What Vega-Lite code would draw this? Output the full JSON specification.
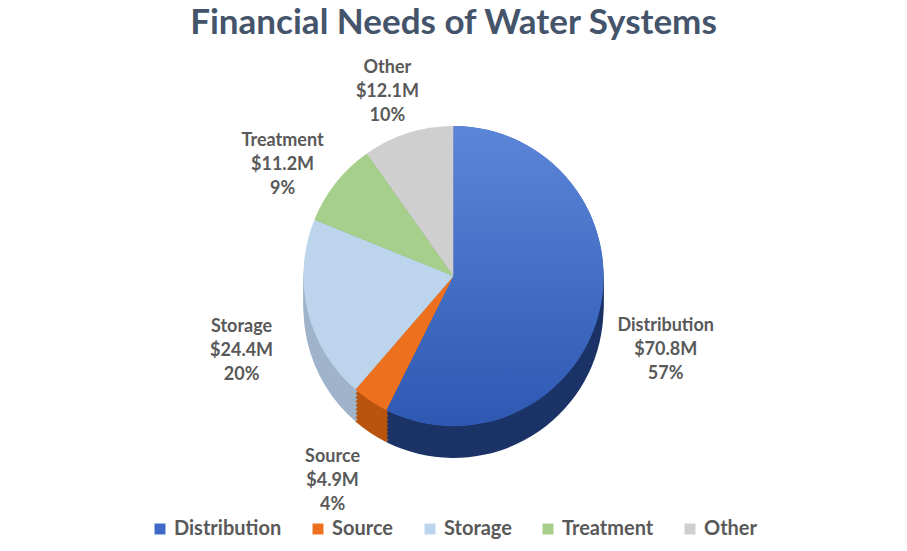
{
  "$schema": "https://vega.github.io/schema/vega-lite/v6.json",
  "width": 907,
  "height": 551,
  "autosize": {"type": "fit", "contains": "padding"},
  "background": "#ffffff",
  "padding": {"left": 5, "right": 5, "top": 6, "bottom": 12},
  "title": {
    "text": "Financial Needs of Water Systems",
    "font": "Lato",
    "fontSize": 35,
    "fontWeight": "bold",
    "color": "#44546a",
    "anchor": "middle",
    "offset": 4
  },
  "datasets": {
    "needs": [
      {"idx": 1, "category": "Distribution", "amount": 70.8, "label": "Distribution\n$70.8M\n57%"},
      {"idx": 2, "category": "Source", "amount": 4.9, "label": "Source\n$4.9M\n4%"},
      {"idx": 3, "category": "Storage", "amount": 24.4, "label": "Storage\n$24.4M\n20%"},
      {"idx": 4, "category": "Treatment", "amount": 11.2, "label": "Treatment\n$11.2M\n9%"},
      {"idx": 5, "category": "Other", "amount": 12.1, "label": "Other\n$12.1M\n10%"}
    ]
  },
  "data": {"name": "needs"},
  "encoding": {
    "theta": {"field": "amount", "type": "quantitative", "stack": true},
    "order": {"field": "idx", "type": "quantitative"}
  },
  "layer": [
    {"mark": {"type": "arc", "outerRadius": 150, "yOffset": 32},
     "encoding": {"color": {"field": "category", "type": "nominal", "legend": null,
       "scale": {"domain": ["Distribution", "Source", "Storage", "Treatment", "Other"], "range": ["#1b3366", "#b9540f", "#9fb4ca", "#86ab6e", "#a9a9a9"]}}}},
    {"mark": {"type": "arc", "outerRadius": 150, "yOffset": 28},
     "encoding": {"color": {"field": "category", "type": "nominal", "legend": null,
       "scale": {"domain": ["Distribution", "Source", "Storage", "Treatment", "Other"], "range": ["#1b3366", "#b9540f", "#9fb4ca", "#86ab6e", "#a9a9a9"]}}}},
    {"mark": {"type": "arc", "outerRadius": 150, "yOffset": 24},
     "encoding": {"color": {"field": "category", "type": "nominal", "legend": null,
       "scale": {"domain": ["Distribution", "Source", "Storage", "Treatment", "Other"], "range": ["#1b3366", "#b9540f", "#9fb4ca", "#86ab6e", "#a9a9a9"]}}}},
    {"mark": {"type": "arc", "outerRadius": 150, "yOffset": 20},
     "encoding": {"color": {"field": "category", "type": "nominal", "legend": null,
       "scale": {"domain": ["Distribution", "Source", "Storage", "Treatment", "Other"], "range": ["#1b3366", "#b9540f", "#9fb4ca", "#86ab6e", "#a9a9a9"]}}}},
    {"mark": {"type": "arc", "outerRadius": 150, "yOffset": 16},
     "encoding": {"color": {"field": "category", "type": "nominal", "legend": null,
       "scale": {"domain": ["Distribution", "Source", "Storage", "Treatment", "Other"], "range": ["#1b3366", "#b9540f", "#9fb4ca", "#86ab6e", "#a9a9a9"]}}}},
    {"mark": {"type": "arc", "outerRadius": 150, "yOffset": 12},
     "encoding": {"color": {"field": "category", "type": "nominal", "legend": null,
       "scale": {"domain": ["Distribution", "Source", "Storage", "Treatment", "Other"], "range": ["#1b3366", "#b9540f", "#9fb4ca", "#86ab6e", "#a9a9a9"]}}}},
    {"mark": {"type": "arc", "outerRadius": 150, "yOffset": 8},
     "encoding": {"color": {"field": "category", "type": "nominal", "legend": null,
       "scale": {"domain": ["Distribution", "Source", "Storage", "Treatment", "Other"], "range": ["#1b3366", "#b9540f", "#9fb4ca", "#86ab6e", "#a9a9a9"]}}}},
    {"mark": {"type": "arc", "outerRadius": 150, "yOffset": 4},
     "encoding": {"color": {"field": "category", "type": "nominal", "legend": null,
       "scale": {"domain": ["Distribution", "Source", "Storage", "Treatment", "Other"], "range": ["#1b3366", "#b9540f", "#9fb4ca", "#86ab6e", "#a9a9a9"]}}}},
    {
      "mark": {"type": "arc", "outerRadius": 150},
      "encoding": {
        "color": {
          "field": "category", "type": "nominal",
          "scale": {"domain": ["Distribution", "Source", "Storage", "Treatment", "Other"],
                    "range": ["#3f69c6", "#ec701e", "#bcd5ec", "#a6cf8b", "#cfcfcf"]},
          "legend": {
            "orient": "bottom", "direction": "horizontal", "title": null,
            "symbolType": "square", "symbolSize": 120, "symbolStrokeWidth": 0,
            "labelFont": "Lato", "labelFontSize": 20, "labelColor": "#595959",
            "labelFontWeight": "bold", "columnPadding": 26, "offset": 12
          }
        }
      }
    },
    {
      "transform": [{"filter": "datum.category === 'Distribution'"}],
      "mark": {"type": "arc", "outerRadius": 150,
        "fill": {"gradient": "linear", "x1": 0, "y1": 0, "x2": 0, "y2": 1,
                 "stops": [{"offset": 0, "color": "#5b86d8"}, {"offset": 1, "color": "#2e58b2"}]}}
    },
    {
      "mark": {"type": "text", "radius": 218, "lineBreak": "\n", "font": "Lato",
               "fontSize": 18, "fontWeight": "bold", "fill": "#595959", "lineHeight": 24},
      "encoding": {
        "text": {"field": "label", "type": "nominal"}
      }
    }
  ],
  "resolve": {"scale": {"color": "independent"}},
  "config": {
    "view": {"stroke": null},
    "legend": {"layout": {"bottom": {"anchor": "middle"}}}
  }
}
